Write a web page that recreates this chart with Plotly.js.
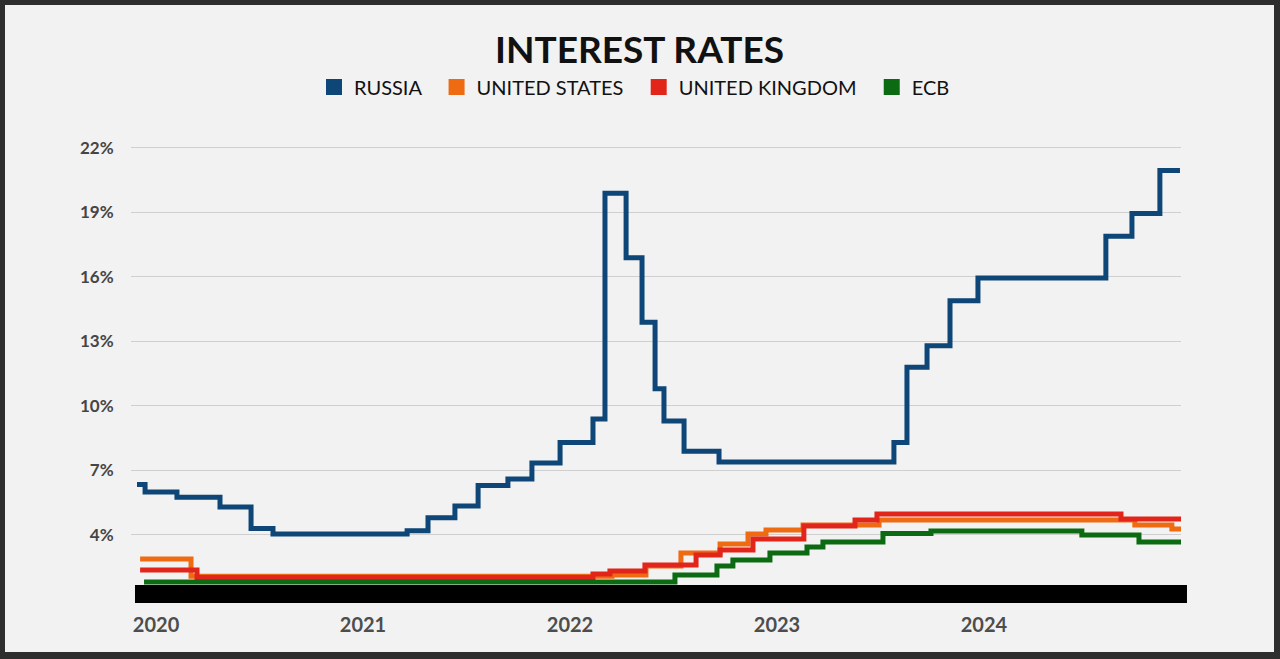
<!DOCTYPE html>
<html><head><meta charset="utf-8">
<script src="https://cdn.plot.ly/plotly-3.0.1.min.js"></script>
<style>
html,body{margin:0;padding:0;background:#2e2e2e;width:1280px;height:659px;overflow:hidden}
#chart{position:absolute;left:5px;top:5px;width:1269px;height:647px}
</style></head><body><div id="chart"></div>
<script>
// Series names and colours
const seriesNames = ['RUSSIA', 'UNITED STATES', 'UNITED KINGDOM', 'ECB'];
const seriesColors = ['#0d4677', '#ee6b12', '#e2251b', '#0b6a12'];

// Decimal-year step dates and policy rate levels (%)
const russiaX = [2019.908, 2019.947, 2020.101, 2020.309, 2020.459, 2020.565, 2021.213, 2021.314, 2021.444, 2021.556,
                 2021.700, 2021.816, 2021.952, 2022.111, 2022.169, 2022.271, 2022.348, 2022.411, 2022.454, 2022.551,
                 2022.720, 2023.565, 2023.628, 2023.725, 2023.836, 2023.971, 2024.589, 2024.715, 2024.850, 2024.947];
const russiaY = [6.35, 6.0, 5.75, 5.3, 4.3, 4.05, 4.2, 4.8, 5.35, 6.3,
                 6.6, 7.35, 8.3, 9.4, 19.9, 16.9, 13.9, 10.8, 9.3, 7.9,
                 7.4, 8.3, 11.8, 12.8, 14.9, 15.95, 17.9, 18.95, 20.95, 20.95];

const usX = [2019.923, 2020.169, 2022.203, 2022.367, 2022.536, 2022.725, 2022.860, 2022.947, 2023.126, 2023.493, 2024.729, 2024.908, 2024.952];
const usY = [2.88, 2.08, 2.14, 2.56, 3.16, 3.58, 4.05, 4.23, 4.47, 4.70, 4.47, 4.28, 4.28];

const ukX = [2019.923, 2020.198, 2022.111, 2022.193, 2022.362, 2022.609, 2022.725, 2022.884, 2023.130, 2023.377, 2023.483, 2024.662, 2024.952];
const ukY = [2.37, 2.02, 2.19, 2.33, 2.60, 3.07, 3.30, 3.81, 4.42, 4.70, 4.98, 4.74, 4.74];

const ecbX = [2019.942, 2022.507, 2022.710, 2022.787, 2022.966, 2023.145, 2023.222, 2023.512, 2023.744, 2024.473, 2024.749, 2024.952];
const ecbY = [1.81, 2.14, 2.56, 2.84, 3.16, 3.44, 3.67, 4.07, 4.19, 4.0, 3.67, 3.67];

// Axis ticks
const yTickVals = [4, 7, 10, 13, 16, 19, 22];
const yTickText = ['4%', '7%', '10%', '13%', '16%', '19%', '22%'];
const xTickVals = [2020, 2021, 2022, 2023, 2024];
const xTickText = ['2020', '2021', '2022', '2023', '2024'];

const seriesX = [russiaX, usX, ukX, ecbX];
const seriesY = [russiaY, usY, ukY, ecbY];

const traces = [];
seriesNames.forEach((n, i) => {
  traces.push({
    type: 'scatter', mode: 'lines', x: seriesX[i], y: seriesY[i], name: n,
    line: {shape: 'hv', color: seriesColors[i], width: 5},
    showlegend: false, hoverinfo: 'skip'
  });
});
// legend entries with square swatches
seriesNames.forEach((n, i) => {
  traces.push({
    type: 'scatter', mode: 'markers', x: [null], y: [null],
    name: n + '\u00a0\u00a0',
    marker: {symbol: 'square', size: 17, color: seriesColors[i]},
    showlegend: true, hoverinfo: 'skip'
  });
});

const layout = {
  width: 1269, height: 647,
  paper_bgcolor: '#f2f2f2', plot_bgcolor: 'rgba(0,0,0,0)',
  margin: {l: 126, r: 93, t: 132, b: 67, pad: 0},
  title: {
    text: '<b>INTEREST RATES</b>', x: 0.5, xref: 'container', xanchor: 'center',
    y: 1 - 45 / 647, yref: 'container', yanchor: 'middle',
    font: {family: 'Lato, "Open Sans", sans-serif', size: 37, color: '#111111'}
  },
  showlegend: true,
  legend: {
    orientation: 'h', x: 0.5, xref: 'container', xanchor: 'center',
    y: 1 - 82 / 647, yref: 'container', yanchor: 'middle',
    font: {family: 'Lato, "Open Sans", sans-serif', size: 20, color: '#111111'},
    bgcolor: 'rgba(0,0,0,0)', itemclick: false, itemdoubleclick: false
  },
  xaxis: {
    range: [2019.879, 2024.952], tickvals: xTickVals, ticktext: xTickText,
    showgrid: false, zeroline: false, showline: false,
    ticks: 'outside', ticklen: 22, tickcolor: 'rgba(0,0,0,0)',
    tickfont: {family: 'Lato, "Open Sans", sans-serif', size: 20, color: '#4d4d4d', weight: 700},
    fixedrange: true
  },
  yaxis: {
    range: [1.674, 22.511], tickvals: yTickVals, ticktext: yTickText,
    showgrid: true, gridcolor: '#cfcfcf', gridwidth: 1, zeroline: false, showline: false,
    ticks: 'outside', ticklen: 13, tickcolor: 'rgba(0,0,0,0)',
    tickfont: {family: 'Lato, "Open Sans", sans-serif', size: 17, color: '#454545', weight: 700},
    fixedrange: true
  },
  shapes: [{
    type: 'rect', xref: 'paper', yref: 'paper',
    x0: 0.0038, x1: 1.0057, y0: -0.0402, y1: 0,
    fillcolor: '#000000', line: {width: 0}, layer: 'above'
  }]
};

Plotly.newPlot('chart', traces, layout, {displayModeBar: false, staticPlot: true});
</script>
</body></html>
